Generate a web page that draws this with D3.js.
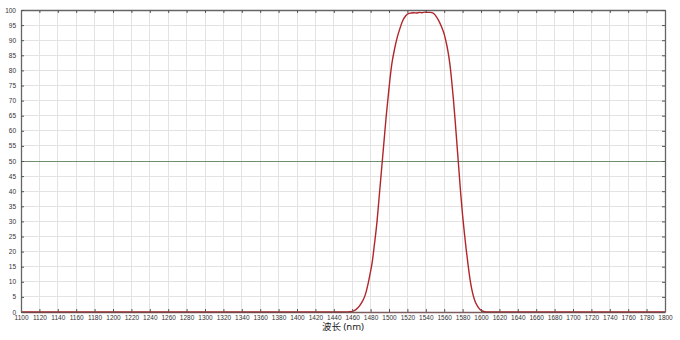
<!DOCTYPE html>
<html><head><meta charset="utf-8">
<script src="https://cdn.jsdelivr.net/npm/d3@7"></script>
<style>body{margin:0;background:#fff}svg{display:block;font-family:"Noto Sans","Noto Sans CJK SC",sans-serif}</style>
</head><body><svg id="c" width="680" height="340"></svg>
<script>
const wavelength = [1100,1200,1300,1400,1450,1460,1464,1468,1471,1474,1477,1479,1482,1484,1487,1489,1491,1493,1495,1497,1499,1501,1503,1506,1509,1512,1515,1518,1521,1524,1527,1530,1533,1536,1539,1542,1545,1548,1551,1554,1557,1560,1562,1564,1566,1568,1570,1572,1574,1576,1578,1580,1582,1584,1586,1588,1590,1593,1596,1599,1602,1606,1620,1700,1800];
const transmittance = [0,0,0,0,0,0.2,0.8,2,3.5,5.5,9,12,17,22,30,37,44,51,58,65,71,77,82,87,91,94,96.5,98,98.8,99,99.1,99,99.2,99.1,99.3,99.2,99.2,99,98,96.5,94.5,92,89.5,86.5,82.5,77,70.5,63,55,47,39,32,26,20.5,15.5,11,7.5,4,2,0.8,0.25,0,0,0,0];
const xTicks = d3.range(1100, 1801, 20);
const yTicks = d3.range(0, 101, 5);
const refLine = 50;
const xLabel = "波长 (nm)";

const svg = d3.select("#c");
const L = 21, R = 665, T = 10, B = 312;
const x = d3.scaleLinear().domain([1100,1800]).range([L,R]);
const y = d3.scaleLinear().domain([0,100]).range([B,T]);

// grid
svg.append("g").selectAll("line").data(xTicks).join("line")
  .attr("x1",d=>x(d)).attr("x2",d=>x(d)).attr("y1",T).attr("y2",B)
  .attr("stroke","#e3e3e3").attr("stroke-width",1).attr("shape-rendering","crispEdges");
svg.append("g").selectAll("line").data(yTicks).join("line")
  .attr("y1",d=>y(d)).attr("y2",d=>y(d)).attr("x1",L).attr("x2",R)
  .attr("stroke","#e3e3e3").attr("stroke-width",1).attr("shape-rendering","crispEdges");

// reference line
svg.append("line").attr("x1",L).attr("x2",R).attr("y1",y(refLine)).attr("y2",y(refLine))
  .attr("stroke","#6f8f6f").attr("stroke-width",1).attr("shape-rendering","crispEdges");

// curve
const pts = wavelength.map((w,i)=>[w,transmittance[i]]);
svg.append("path").datum(pts)
  .attr("d", d3.line().x(d=>x(d[0])).y(d=>y(d[1])).curve(d3.curveMonotoneX))
  .attr("fill","none").attr("stroke","#b0262a").attr("stroke-width",1.4);

// axes
const fmt = d3.format("d");
const axB = svg.append("g").attr("transform",`translate(0,${B})`)
  .call(d3.axisBottom(x).tickValues(xTicks).tickFormat(fmt).tickSizeInner(-3).tickSizeOuter(0).tickPadding(4));
const axT = svg.append("g").attr("transform",`translate(0,${T})`)
  .call(d3.axisTop(x).tickValues(xTicks).tickFormat("").tickSizeInner(-3).tickSizeOuter(0));
const axL = svg.append("g").attr("transform",`translate(${L},0)`)
  .call(d3.axisLeft(y).tickValues(yTicks).tickFormat(fmt).tickSizeInner(-3).tickSizeOuter(0).tickPadding(5));
const axR = svg.append("g").attr("transform",`translate(${R},0)`)
  .call(d3.axisRight(y).tickValues(yTicks).tickFormat("").tickSizeInner(-3).tickSizeOuter(0));
[axB,axT,axL,axR].forEach(a=>{
  a.select(".domain").attr("stroke","#666").attr("stroke-width",1.3);
  a.selectAll(".tick line").attr("stroke","#555");
  a.selectAll("text").attr("fill","#333").style("font-size","6.5px");
});
axB.select(".domain").attr("stroke","#6a4444").attr("stroke-opacity",0.85);
axB.selectAll("text").attr("dy","0.6em");

svg.append("text").attr("x",343).attr("y",330).attr("text-anchor","middle")
  .attr("fill","#222").style("font-size","9.5px").text(xLabel);
</script></body></html>
